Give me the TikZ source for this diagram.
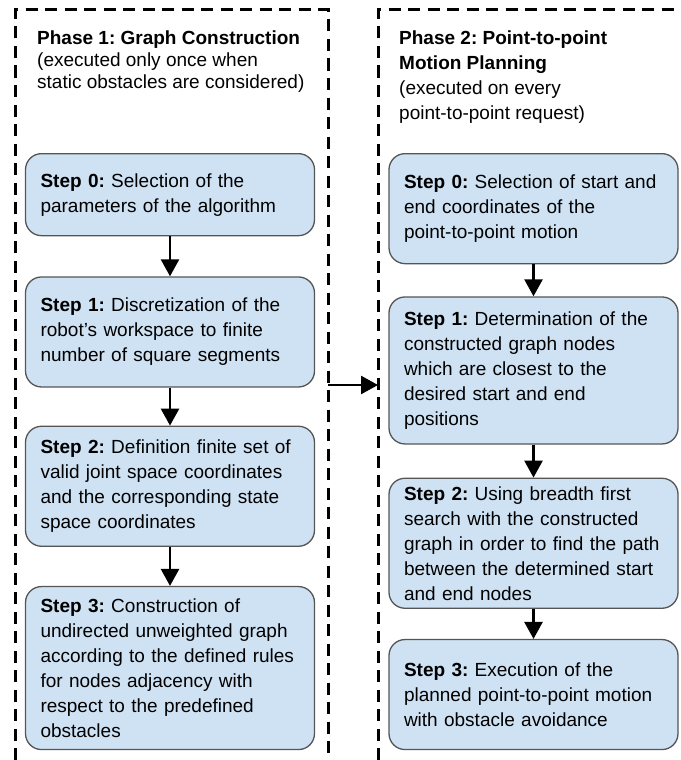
\documentclass[tikz,border=0pt]{standalone}
\usepackage{fontspec}
\setmainfont{Liberation Sans}
\usetikzlibrary{arrows.meta}
\usetikzlibrary{positioning}
\definecolor{stepfill}{HTML}{CFE2F3}
\definecolor{stepline}{HTML}{555555}
\frenchspacing
\tikzset{basic box/.style={draw=stepline,
                           fill=stepfill,
                           line width=1.3pt,
                           rounded corners=16pt}}
\tikzset{stepbox/.style={basic box,align=left,
                         minimum width=289pt,
                         inner xsep=15pt,
                         text width=259pt,
                         font=\fontsize{19}{25}\selectfont}}
\tikzset{flow/.style={draw,
                      line width=2.6pt,
                      -{Triangle[length=17pt,width=18pt]}}}
\tikzset{phase frame/.style={draw,line width=3pt,
                             dash pattern=on 12pt off 7.5pt}}

\begin{document}
\begin{tikzpicture}
      [
      x=1pt,y=-1pt,
      header/.style={anchor=north west,inner sep=0pt,align=left},
      node distance=38pt,
      ]
      \useasboundingbox (0,0) rectangle (680,760);

      % frames
      \path [phase frame] (15,760) -- (15,10) -- (328,10) -- (328,760);
      \path [phase frame] (378,760) -- (378,10) -- (680,10);
      \coordinate (P1) at (328,385);
      \coordinate (P2) at (378,385);

      % headers
      \node [header,font=\fontsize{19}{22}\selectfont] (H1) at (37,31)
      {\textbf{Phase 1: Graph Construction}\\
      (executed only once when\\
      static obstacles are considered)};

      \node [header,font=\fontsize{19}{25}\selectfont] (H2) at (399,31)
      {\textbf{Phase 2: Point-to-point}\\
      \textbf{Motion Planning}\\
      (executed on every\\
      point-to-point request)};

      % phase 1 steps
      \node [stepbox,minimum height=82pt,anchor=north,xshift=-1pt] (A0) at (171,153)
      {\textbf{Step 0:} Selection of the\\
      parameters of the algorithm};
      \node [stepbox,minimum height=110pt,below=40pt of A0] (A1)
      {\textbf{Step 1:} Discretization of the\\
      robot's workspace to finite\\
      number of square segments};
      \node [stepbox,minimum height=120pt,below=38pt of A1] (A2)
      {\textbf{Step 2:} Definition finite set of\\
      valid joint space coordinates\\
      and the corresponding state\\
      space coordinates};
      \node [stepbox,minimum height=163pt,below=39pt of A2] (A3)
      {\textbf{Step 3:} Construction of\\
      undirected unweighted graph\\
      according to the defined rules\\
      for nodes adjacency with\\
      respect to the predefined\\
      obstacles};

      % phase 2 steps
      \node [stepbox,minimum height=110pt,anchor=north] (B0) at (533.5,153)
      {\textbf{Step 0:} Selection of start and\\
      end coordinates of the\\
      point-to-point motion};
      \node [stepbox,minimum height=147pt,below=32pt of B0] (B1)
      {\textbf{Step 1:} Determination of the\\
      constructed graph nodes\\
      which are closest to the\\
      desired start and end\\
      positions};
      \node [stepbox,minimum height=130pt,below=33pt of B1] (B2)
      {\textbf{Step 2:} Using breadth first\\
      search with the constructed\\
      graph in order to find the path\\
      between the determined start\\
      and end nodes};
      \node [stepbox,minimum height=110pt,below=30pt of B2] (B3)
      {\textbf{Step 3:} Execution of the\\
      planned point-to-point motion\\
      with obstacle avoidance};

      % arrows
      \foreach \a/\b in {A0/A1,A1/A2,A2/A3,B0/B1,B1/B2,B2/B3}
      {
      \path [flow] (\a.south) -- (\b.north);
      }
      \path [flow] (P1) -- (P2);

\end{tikzpicture}
\end{document}
